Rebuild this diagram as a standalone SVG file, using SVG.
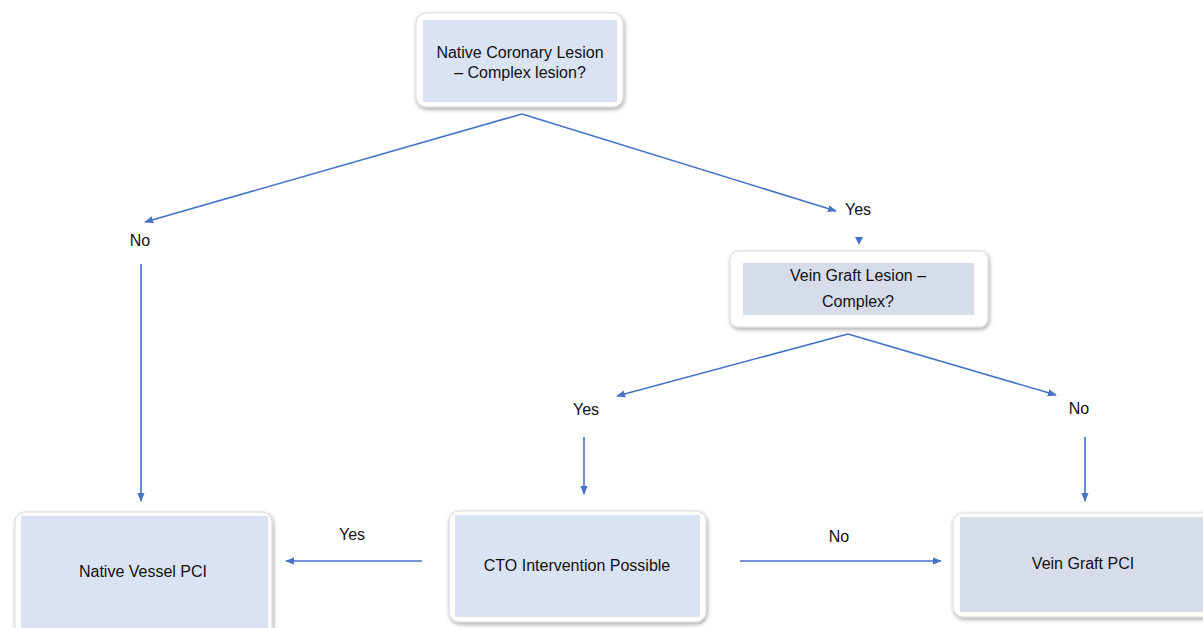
<svg xmlns="http://www.w3.org/2000/svg" width="1203" height="628" viewBox="0 0 1203 628">
<defs>
<filter id="sh" x="-10%" y="-10%" width="120%" height="130%">
<feDropShadow dx="1" dy="2" stdDeviation="2" flood-color="#000" flood-opacity="0.35"/>
</filter>
<marker id="ah" viewBox="0 0 10 10" refX="9" refY="5" markerWidth="9" markerHeight="9" orient="auto" markerUnits="userSpaceOnUse">
<path d="M0,1 L10,5 L0,9 z" fill="#4472c4"/>
</marker>
</defs>
<style>
.outer{fill:#fff;stroke:#d9d9d9;stroke-width:1;filter:url(#sh)}
.inner{fill:#dae3f3}
.inner2{fill:#d6dcea}
.t{font-family:"Liberation Sans",Arial,sans-serif;font-size:16px;fill:#111;text-anchor:middle}
.c{stroke:#4472c4;stroke-width:1.6;fill:none;marker-end:url(#ah)}
</style>
<rect width="1203" height="628" fill="#fff"/>
<g id="n1">
<rect class="outer" x="416" y="13" width="207" height="94" rx="10"/>
<rect class="inner" x="423" y="20" width="194" height="82"/>
<text class="t" x="520" y="58">Native Coronary Lesion</text>
<text class="t" x="520" y="78">– Complex lesion?</text>
</g>
<g id="n2">
<rect class="outer" x="730" y="251" width="258" height="76" rx="8"/>
<rect class="inner2" x="743" y="263" width="231" height="52"/>
<text class="t" x="858" y="281">Vein Graft Lesion –</text>
<text class="t" x="858" y="307">Complex?</text>
</g>
<g id="n3">
<rect class="outer" x="15" y="512" width="257" height="125" rx="10"/>
<rect class="inner" x="21" y="516" width="247" height="112"/>
<text class="t" x="143" y="577">Native Vessel PCI</text>
</g>
<g id="n4">
<rect class="outer" x="449" y="511" width="257" height="111" rx="10"/>
<rect class="inner" x="455" y="515" width="245" height="102"/>
<text class="t" x="577" y="571">CTO Intervention Possible</text>
</g>
<g id="n5">
<rect class="outer" x="953" y="513" width="262" height="104" rx="10"/>
<rect class="inner2" x="960" y="517" width="250" height="95"/>
<text class="t" x="1083" y="569">Vein Graft PCI</text>
</g>
<g id="labels">
<text class="t" x="140" y="246">No</text>
<text class="t" x="858" y="215">Yes</text>
<text class="t" x="586" y="415">Yes</text>
<text class="t" x="1079" y="414">No</text>
<text class="t" x="352" y="540">Yes</text>
<text class="t" x="839" y="542">No</text>
</g>
<g id="connectors">
<path class="c" d="M522,114 L145,222"/>
<path class="c" d="M522,114 L836,211"/>
<path d="M855,237 L863,237 L859,245 z" fill="#4472c4"/>
<path class="c" d="M141,264 L141,501"/>
<path class="c" d="M848,334 L617,396"/>
<path class="c" d="M848,334 L1056,395"/>
<path class="c" d="M584,437 L584,494"/>
<path class="c" d="M1085,437 L1085,501"/>
<path class="c" d="M422,561 L286,561"/>
<path class="c" d="M740,561 L941,561"/>
</g>
</svg>
